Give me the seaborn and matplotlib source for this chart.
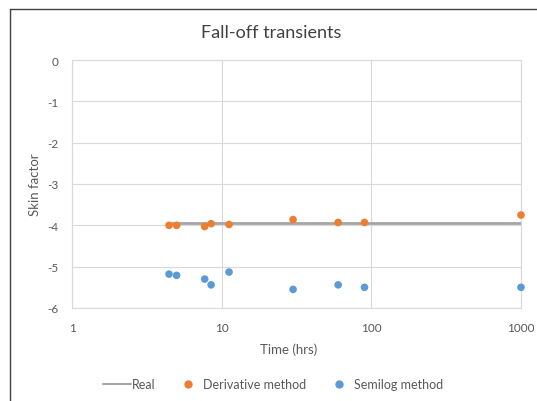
import matplotlib
matplotlib.use("Agg")
import matplotlib.pyplot as plt
from matplotlib.lines import Line2D
import seaborn as sns
import pandas as pd

# Data
time_hrs = [4.45, 5.0, 7.7, 8.5, 11.2, 30.0, 60.0, 90.0, 1000.0]
real_skin = [-3.95, -3.95, -3.95, -3.95, -3.95, -3.95, -3.95, -3.95, -3.95]
derivative_skin = [-4.00, -4.00, -4.03, -3.96, -3.98, -3.86, -3.93, -3.93, -3.75]
semilog_skin = [-5.18, -5.21, -5.30, -5.44, -5.13, -5.55, -5.44, -5.50, -5.50]
x_ticks = [1, 10, 100, 1000]
x_tick_labels = ["1", "10", "100", "1000"]
y_ticks = [0, -1, -2, -3, -4, -5, -6]
y_tick_labels = ["0", "-1", "-2", "-3", "-4", "-5", "-6"]

df = pd.DataFrame({"t": time_hrs, "real": real_skin,
                   "deriv": derivative_skin, "semi": semilog_skin})

sns.set_style("white")
plt.rcParams["font.family"] = ["Lato", "DejaVu Sans"]

text_col = "#595959"
grid_col = "#d9d9d9"
c_real = "#a5a5a5"
c_der = "#ed7d31"
c_sem = "#5b9bd5"

fig = plt.figure(figsize=(5.37, 4.02), dpi=100)
ax = fig.add_axes([72/537, (402-309)/402, (521-72)/537, (309-61)/402])

sns.lineplot(data=df, x="t", y="real", ax=ax, color=c_real, linewidth=2.0,
             zorder=2, legend=False)
sns.scatterplot(data=df, x="t", y="deriv", ax=ax, color=c_der, s=30,
                edgecolor="none", zorder=3, legend=False, clip_on=False)
sns.scatterplot(data=df, x="t", y="semi", ax=ax, color=c_sem, s=30,
                edgecolor="none", zorder=3, legend=False, clip_on=False)

ax.set_xscale("log")
ax.set_xlim(1, 1000)
ax.set_ylim(-6, 0)
ax.set_xticks(x_ticks)
ax.set_xticklabels(x_tick_labels)
ax.set_yticks(y_ticks)
ax.set_yticklabels(y_tick_labels)
ax.minorticks_off()
ax.tick_params(axis="both", length=0, labelsize=8.5, labelcolor=text_col)
ax.tick_params(axis="y", pad=9.5)
ax.tick_params(axis="x", pad=10)
ax.grid(True, color=grid_col, linewidth=0.8)
ax.set_axisbelow(True)
for s in ax.spines.values():
    s.set_color(grid_col)
    s.set_linewidth(0.8)

ax.set_xlabel("Time (hrs)", fontsize=9.5, color=text_col)
ax.xaxis.set_label_coords((289-72)/(521-72), -(350-309)/(309-61), transform=ax.transAxes)
ax.xaxis.label.set_va("center")
ax.set_ylabel("Skin factor", fontsize=9.5, color=text_col)
ax.yaxis.set_label_coords(-(72-35)/(521-72), 0.5, transform=ax.transAxes)
ax.yaxis.label.set_va("center")
fig.text(271/537, 1 - 33/402, "Fall-off transients", ha="center", va="center",
         fontsize=13, color="#404040")

# chart frame (left and top edges)
fig.add_artist(Line2D([10/537, 10/537], [0, 1 - 10/402], transform=fig.transFigure,
                      color="#404040", linewidth=1.0))
fig.add_artist(Line2D([10/537, 1], [1 - 10/402, 1 - 10/402], transform=fig.transFigure,
                      color="#404040", linewidth=1.0))

handles = [
    Line2D([], [], color=c_real, linewidth=1.5),
    Line2D([], [], color=c_der, marker="o", linestyle="none", markersize=5),
    Line2D([], [], color=c_sem, marker="o", linestyle="none", markersize=5),
]
fig.legend(handles, ["Real", "Derivative method", "Semilog method"],
           loc="center", bbox_to_anchor=(273/537, 1 - 385/402), ncol=3,
           frameon=False, fontsize=9, labelcolor=text_col,
           handlelength=2.2, columnspacing=1.5, handletextpad=0.1)

fig.savefig("out.png", dpi=100)
